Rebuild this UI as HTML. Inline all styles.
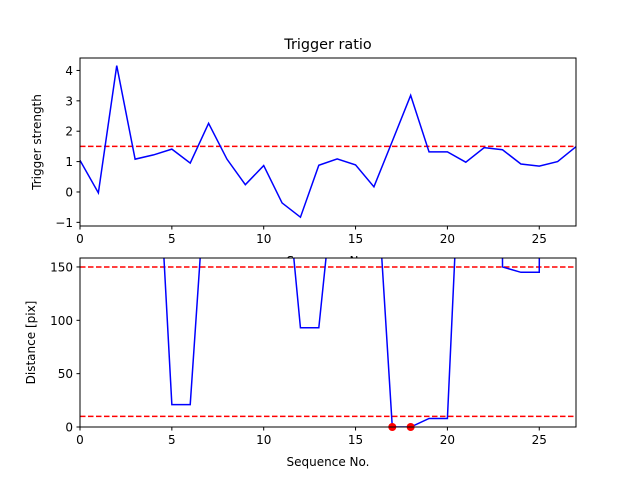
<!DOCTYPE html>
<html><head><meta charset="utf-8"><style>
body{margin:0;background:#fff;}
svg{display:block;font-family:"DejaVu Sans","Liberation Sans",sans-serif;}
</style></head><body>
<svg id="fig" width="640" height="480" viewBox="0 0 640 480"></svg>
<script>
const seqTop = [0,1,2,3,4,5,6,7,8,9,10,11,12,13,14,15,16,17,18,19,20,21,22,23,24,25,26,27];
const triggerStrength = [1.04,-0.03,4.16,1.08,1.22,1.41,0.95,2.26,1.08,0.24,0.87,-0.36,-0.83,0.88,1.09,0.89,0.17,1.67,3.18,1.32,1.32,0.98,1.46,1.39,0.92,0.85,1.0,1.49];
const triggerThreshold = 1.5;
const distance = [2000,2000,2000,2000,340,21,21,275,300,300,300,274,93,93,260,300,277,0,0,8,8,383,5000,150,145,145,5000,5000];
const detectedIdx = [17,18];
const distThresholds = [150,10];
const topYTicks = [-1,0,1,2,3,4];
const botYTicks = [0,50,100,150];
const xTicks = [0,5,10,15,20,25];

const NS="http://www.w3.org/2000/svg";
const svg=document.getElementById('fig');
function mk(tag,attrs,parent){const e=document.createElementNS(NS,tag);for(const k in attrs)e.setAttribute(k,attrs[k]);(parent||svg).appendChild(e);return e;}

function drawAxes(cfg){
  const {L,R,T,B,ymin,ymax,prefix}=cfg;
  const xs=v=>L+(v-0)/(27-0)*(R-L);
  const ys=v=>B-(v-ymin)/(ymax-ymin)*(B-T);
  const g=mk('g',{});
  
  
  mk('rect',{x:L,y:T,width:R-L,height:B-T,fill:'#fff'},g);
  const cp=mk('clipPath',{id:prefix+'clip'},g);
  mk('rect',{x:L,y:T,width:R-L,height:B-T},cp);
  const plot=mk('g',{'clip-path':'url(#'+prefix+'clip)'},g);
  return {g,plot,xs,ys};
}
function frame(a,cfg,yt,xlabel,ylabel,ylabelX){
  const {L,R,T,B,prefix}=cfg;
  const r=mk('rect',{x:L,y:T,width:R-L,height:B-T,fill:'none',stroke:'#000','stroke-width':1},a.g);
  
  
  xTicks.forEach(t=>{
    const x=a.xs(t);
    mk('line',{x1:x,x2:x,y1:B,y2:B+3.5,stroke:'#000'},a.g);
    const tx=mk('text',{x:x,y:B+17,'font-size':12,'text-anchor':'middle'},a.g);
    tx.textContent=t;
    
    
  });
  yt.forEach(t=>{
    const y=a.ys(t);
    mk('line',{x1:L-3.5,x2:L,y1:y,y2:y,stroke:'#000'},a.g);
    const tx=mk('text',{x:L-7,y:y+4.5,'font-size':12,'text-anchor':'end'},a.g);
    tx.textContent=(t<0?'\u2212'+(-t):t);
    
    
  });
  const xl=mk('text',{x:(L+R)/2,y:B+39,'font-size':12,'text-anchor':'middle'},svg);
  xl.textContent=xlabel;
  
  
  const yl=mk('text',{x:ylabelX,y:(T+B)/2,'font-size':12,'text-anchor':'middle',transform:'rotate(-90 '+ylabelX+' '+(T+B)/2+')'},svg);
  yl.textContent=ylabel;
  
  
}

// Top
const cT={L:80,R:576,T:58,B:226,ymin:-1.12,ymax:4.41,prefix:'top'};
const aT=drawAxes(cT);
const hl=mk('line',{x1:cT.L,x2:cT.R,y1:aT.ys(triggerThreshold),y2:aT.ys(triggerThreshold),stroke:'#f00','stroke-width':1.5,'stroke-dasharray':'5.5,2.5'},aT.plot);


const pT=mk('polyline',{points:seqTop.map((x,i)=>aT.xs(x)+','+aT.ys(triggerStrength[i])).join(' '),fill:'none',stroke:'#00f','stroke-width':1.5},aT.plot);


frame(aT,cT,topYTicks,'Sequence No.','Trigger strength',41);
const title=mk('text',{x:328,y:49,'font-size':14.4,'text-anchor':'middle'});
title.textContent='Trigger ratio';



// Bottom
const cB={L:80,R:576,T:258,B:427,ymin:0,ymax:158.4,prefix:'bottom'};
const aB=drawAxes(cB);
distThresholds.forEach(v=>{
  const l=mk('line',{x1:cB.L,x2:cB.R,y1:aB.ys(v),y2:aB.ys(v),stroke:'#f00','stroke-width':1.5,'stroke-dasharray':'5.5,2.5'},aB.plot);
  
  
});
const pB=mk('polyline',{points:seqTop.map((x,i)=>aB.xs(x)+','+aB.ys(distance[i])).join(' '),fill:'none',stroke:'#00f','stroke-width':1.5},aB.plot);


detectedIdx.forEach(i=>{
  const c=mk('circle',{cx:aB.xs(seqTop[i]),cy:aB.ys(distance[i]),r:4,fill:'#f00'},aB.g);
  
  
});
frame(aB,cB,botYTicks,'Sequence No.','Distance [pix]',35);
</script>
</body></html>
